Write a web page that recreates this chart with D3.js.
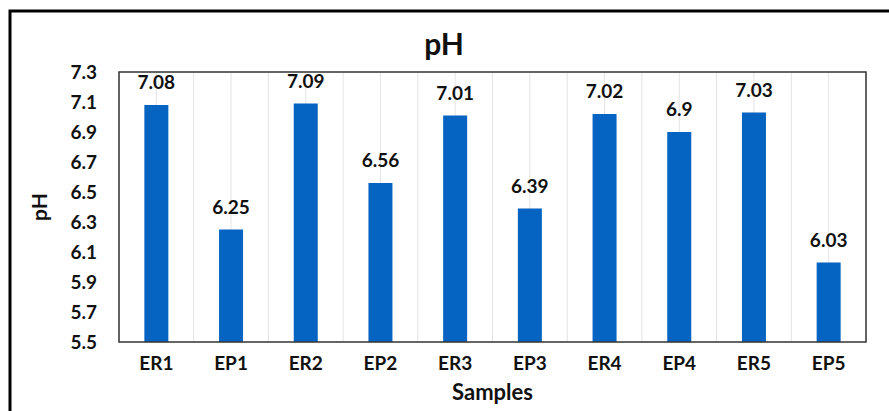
<!DOCTYPE html>
<meta charset="utf-8">
<head>
  <title>pH</title>
</head>
<style>
  body { margin: 0; background: #fff; }
  text { font-family: Lato, "Open Sans", sans-serif; font-weight: bold; fill: #111; }
</style>
<body>
  <svg width="889" height="411"></svg>
  <script src="https://cdn.jsdelivr.net/npm/d3@7"></script>
  <script>
var samples = ["ER1", "EP1", "ER2", "EP2", "ER3", "EP3", "ER4", "EP4", "ER5", "EP5"];
var phValues = [7.08, 6.25, 7.09, 6.56, 7.01, 6.39, 7.02, 6.9, 7.03, 6.03];
var yTicks = [5.5, 5.7, 5.9, 6.1, 6.3, 6.5, 6.7, 6.9, 7.1, 7.3];

var svg = d3.select("svg");
var plotL = 119, plotR = 866, plotT = 72, plotB = 342;

// outer chart border (goes past the picture edge on right and bottom)
svg.append("rect")
  .attr("x", 10).attr("y", 11)
  .attr("width", 900).attr("height", 420)
  .style("fill", "none").style("stroke", "#000").style("stroke-width", 3);

var x = d3.scaleBand().domain(samples).range([plotL, plotR]).padding(0);
var y = d3.scaleLinear().domain([5.5, 7.3]).range([plotB, plotT]);

// vertical gridlines at each half category
var gridX = d3.range(0, samples.length * 2 + 1).map(function(i) { return plotL + i * x.bandwidth() / 2; });
svg.append("g").selectAll("line")
  .data(gridX)
  .enter().append("line")
  .attr("x1", function(d) { return d; }).attr("x2", function(d) { return d; })
  .attr("y1", plotT).attr("y2", plotB)
  .style("stroke", "#e3e3e3").style("stroke-width", 1);

var barW = 24;
svg.append("g").selectAll("rect")
  .data(phValues)
  .enter().append("rect")
  .attr("x", function(d, i) { return x(samples[i]) + x.bandwidth() / 2 - barW / 2; })
  .attr("y", function(d) { return y(d); })
  .attr("width", barW)
  .attr("height", function(d) { return plotB - y(d); })
  .style("fill", "#0563c1");

// value labels
svg.append("g").selectAll("text")
  .data(phValues)
  .enter().append("text")
  .attr("x", function(d, i) { return x(samples[i]) + x.bandwidth() / 2; })
  .attr("y", function(d) { return y(d) - 16; })
  .attr("text-anchor", "middle")
  .style("font-size", "19px")
  .text(function(d) { return d; });

// plot frame
svg.append("rect")
  .attr("x", plotL).attr("y", plotT)
  .attr("width", plotR - plotL).attr("height", plotB - plotT)
  .style("fill", "none").style("stroke", "#333").style("stroke-width", 1.5);

// y tick labels
var yAxis = d3.axisLeft(y).tickValues(yTicks).tickFormat(d3.format(".1f")).tickSize(0).tickPadding(22);
var gy = svg.append("g").attr("transform", "translate(" + plotL + ",0)").call(yAxis);
gy.select(".domain").remove();
gy.selectAll("text").style("font-size", "19px").style("font-family", "Lato, sans-serif").attr("fill", "#111");

// x tick labels
var xAxis = d3.axisBottom(x).tickSize(0).tickPadding(15);
var gx = svg.append("g").attr("transform", "translate(0," + plotB + ")").call(xAxis);
gx.select(".domain").remove();
gx.selectAll("text").style("font-size", "19px").style("font-family", "Lato, sans-serif").attr("fill", "#111");

svg.append("text")
  .attr("x", 444).attr("y", 55)
  .attr("text-anchor", "middle")
  .style("font-size", "30px")
  .text("pH");

svg.append("text")
  .attr("x", (plotL + plotR) / 2).attr("y", 400)
  .attr("text-anchor", "middle")
  .style("font-size", "22px")
  .text("Samples");

svg.append("text")
  .attr("transform", "translate(47," + (plotT + plotB) / 2 + ") rotate(-90)")
  .attr("text-anchor", "middle")
  .style("font-size", "21px")
  .text("pH");
  </script>
</body>
</html>
